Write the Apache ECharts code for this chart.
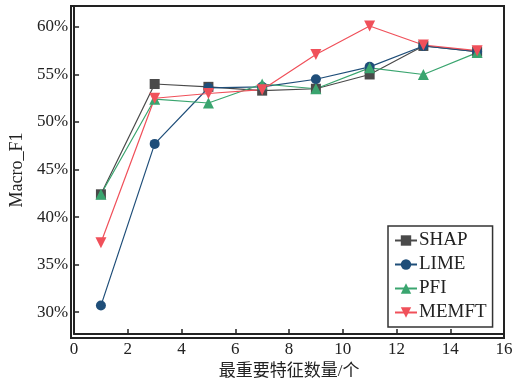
<!DOCTYPE html>
<html><head><meta charset="utf-8">
<script src="https://cdn.jsdelivr.net/npm/echarts@6/dist/echarts.min.js"></script>
<style>html,body{margin:0;padding:0;background:#fff}#c{width:516px;height:385px}</style>
</head><body><div id="c"></div>
<script>
const xValues = [1, 3, 5, 7, 9, 11, 13, 15];
const shap  = [42.4, 54.0, 53.7, 53.3, 53.5, 55.0, 58.0, 57.4];
const lime  = [30.7, 47.7, 53.6, 53.7, 54.5, 55.8, 58.0, 57.4];
const pfi   = [42.4, 52.4, 52.0, 54.0, 53.5, 55.7, 55.0, 57.3];
const memft = [37.3, 52.5, 53.0, 53.4, 57.1, 60.1, 58.1, 57.5];
const yTicks = [30, 35, 40, 45, 50, 55, 60];
const xTicks = [0, 2, 4, 6, 8, 10, 12, 14, 16];

const font = "Liberation Serif, Times New Roman, Noto Sans CJK SC, serif";
function pairs(arr){ return xValues.map((x,i)=>[x, arr[i]]); }
function mk(name, data, color, symbol, size, rot){
  return {name, type:'line', data:pairs(data), symbol, symbolSize:size, symbolRotate:rot||0,
    lineStyle:{color, width:1.2}, itemStyle:{color}, color, z: 3};
}
const chart = echarts.init(document.getElementById('c'));
chart.setOption({
  animation:false,
  grid:{left:71, right:12, top:6, bottom:47},
  xAxis:{type:'value', min:0, max:16, interval:2,
    axisLine:{lineStyle:{color:'#222', width:2}},
    axisTick:{inside:true, length:5, lineStyle:{color:'#222', width:1.5}},
    axisLabel:{fontFamily:font, fontSize:17, color:'#222', margin:7},
    splitLine:{show:false},
    name:'最重要特征数量/个', nameLocation:'middle', nameGap:25,
    nameTextStyle:{fontFamily:font, fontSize:17, color:'#222'}},
  yAxis:{type:'value', min:27.7, max:62.2,
    axisLine:{lineStyle:{color:'#222', width:2}},
    axisTick:{inside:true, length:5, customValues:yTicks, lineStyle:{color:'#222', width:1.5}},
    axisLabel:{fontFamily:font, fontSize:17, color:'#222', margin:6, customValues:yTicks, formatter: v=>v+'%'},
    splitLine:{show:false},
    name:'Macro_F1', nameLocation:'middle', nameGap:47,
    nameTextStyle:{fontFamily:font, fontSize:18, color:'#222'}},
  legend:{orient:'vertical', left:388, top:226, padding:[5,6,5,6], itemGap:5,
    itemWidth:22, itemHeight:13,
    borderColor:'#333', borderWidth:1.5, backgroundColor:'#fff',
    textStyle:{fontFamily:font, fontSize:19, color:'#222', padding:[0,0,0,-3]},
    data:['SHAP','LIME','PFI','MEMFT']},
  graphic:[{type:'rect', shape:{x:71, y:6, width:433, height:332}, style:{fill:'none', stroke:'#222', lineWidth:2}, z:0, silent:true}],
  series:[
    mk('SHAP', shap, '#4a4a4a', 'rect', 10),
    mk('LIME', lime, '#1f4e79', 'circle', 10),
    mk('PFI', pfi, '#3aa56f', 'triangle', 11),
    mk('MEMFT', memft, '#f0505a', 'triangle', 11, 180)
  ]
});
</script></body></html>
